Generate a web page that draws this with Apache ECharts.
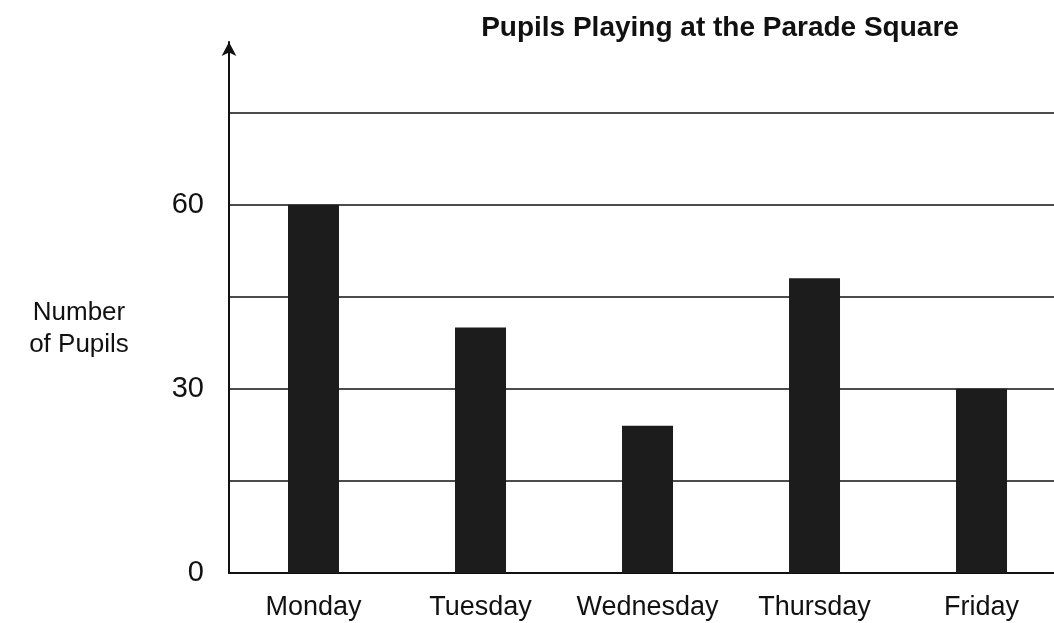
<!DOCTYPE html>
<html>
<head>
<meta charset="utf-8">
<style>html,body{margin:0;padding:0;background:#fff}#c{width:1054px;height:623px}</style>
<script src="https://cdn.jsdelivr.net/npm/echarts@6/dist/echarts.min.js"></script>
</head>
<body>
<div id="c"></div>
<script>
const titleText = "Pupils Playing at the Parade Square";
const yAxisName = "Number\nof Pupils";
const days = ["Monday", "Tuesday", "Wednesday", "Thursday", "Friday"];
const pupils = [60, 40, 24, 48, 30];
const yLabelValues = [0, 30, 60];

const dayIndex = days.map((d, i) => i);
const chart = echarts.init(document.getElementById('c'), null, {renderer: 'canvas'});
const font = "'Liberation Sans', Arial, sans-serif";
chart.setOption({
  animation: false,
  backgroundColor: '#ffffff',
  title: [
    {text: titleText, left: 715, top: 9, textAlign: 'center',
     textStyle: {fontFamily: font, fontWeight: 'bold', fontSize: 28, color: '#111'}},
    {text: yAxisName, left: 74, top: 292, textAlign: 'center',
     textStyle: {fontFamily: font, fontWeight: 'normal', fontSize: 26, color: '#111', lineHeight: 32, align: 'center'}}
  ],
  grid: {left: 229, right: 0, top: 42, bottom: 50},
  xAxis: {
    type: 'value',
    min: -0.506, max: 4.434,
    splitLine: {show: false},
    axisLine: {show: true, onZero: false, lineStyle: {color: '#111', width: 2}},
    axisTick: {show: false},
    axisLabel: {
      customValues: dayIndex, showMinLabel: true, showMaxLabel: true, hideOverlap: false,
      fontFamily: font, fontSize: 27, color: '#111', margin: 21,
      formatter: v => days[Math.round(v)] || ''
    }
  },
  yAxis: {
    type: 'value',
    min: 0, max: 86.5, interval: 15,
    axisLine: {show: true, onZero: false, symbol: ['none', 'arrow'], symbolSize: [11, 14], lineStyle: {color: '#111', width: 2}},
    axisTick: {show: false},
    splitLine: {show: true, showMaxLine: false, lineStyle: {color: '#111', width: 1.5}},
    axisLabel: {
      fontFamily: font, fontSize: 29, color: '#111', margin: 25, showMaxLabel: false,
      formatter: v => yLabelValues.includes(v) ? String(v) : ''
    }
  },
  series: [{
    type: 'bar',
    data: pupils.map((v, i) => [dayIndex[i], v]),
    barWidth: 51,
    itemStyle: {color: '#1c1c1c'}
  }]
});
</script>
</body>
</html>
